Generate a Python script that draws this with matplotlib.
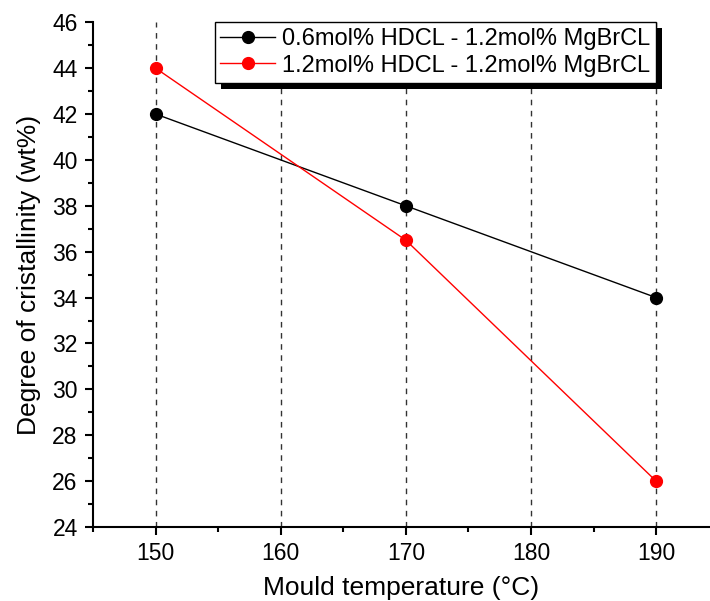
import matplotlib.pyplot as plt
from matplotlib.ticker import MultipleLocator
from matplotlib.patches import Rectangle
from matplotlib.transforms import IdentityTransform

plt.rcParams['font.family'] = ['Liberation Sans', 'DejaVu Sans']

# data
temps = [150, 170, 190]
hdcl_06 = [42, 38, 34]
hdcl_12 = [44, 36.5, 26]
labels = ["0.6mol% HDCL - 1.2mol% MgBrCL", "1.2mol% HDCL - 1.2mol% MgBrCL"]

fig = plt.figure(figsize=(7.1, 6.01), dpi=100)
ax = fig.add_axes([0.131, 0.123, 0.869, 0.840])

# vertical dashed grid
for x in [150, 160, 170, 180, 190]:
    ax.axvline(x, color='black', ls=(0, (4, 4)), lw=1, alpha=0.8, zorder=0)

ax.plot(temps, hdcl_06, color='black', lw=1, marker='o', ms=8.5, label=labels[0])
ax.plot(temps, hdcl_12, color='red', lw=1, marker='o', ms=8.5, label=labels[1])

ax.set_xlim(145, 194.3)
ax.set_ylim(24, 46)
ax.xaxis.set_major_locator(MultipleLocator(10))
ax.xaxis.set_minor_locator(MultipleLocator(5))
ax.yaxis.set_major_locator(MultipleLocator(2))
ax.yaxis.set_minor_locator(MultipleLocator(1))
ax.spines['top'].set_visible(False)
ax.spines['right'].set_visible(False)
ax.spines['left'].set_linewidth(1.5)
ax.spines['bottom'].set_linewidth(1.5)
ax.tick_params(which='major', direction='out', length=6, width=1.5, labelsize=16.5, pad=5)
ax.tick_params(which='minor', direction='out', length=3.5, width=1.5)

ax.set_xlabel("Mould temperature (°C)", fontsize=19, labelpad=8)
ax.set_ylabel("Degree of cristallinity (wt%)", fontsize=19, labelpad=8)

leg = ax.legend(loc='upper right', bbox_to_anchor=(656/710, 1 - 22/601),
                bbox_transform=fig.transFigure, fontsize=17, fancybox=False,
                framealpha=1, edgecolor='black',
                borderpad=0.25, labelspacing=0.2, handlelength=2.3,
                handletextpad=0.3, borderaxespad=0)
leg.get_frame().set_linewidth(1)
leg.set_zorder(10)

# solid black drop shadow behind the legend box
fig.canvas.draw()
bb = leg.get_window_extent()
shadow = Rectangle((bb.x0 + 6, bb.y0 - 6), bb.width, bb.height,
                   facecolor='black', edgecolor='none', zorder=9, clip_on=False)
shadow.set_transform(IdentityTransform())
ax.add_artist(shadow)

fig.savefig('out.png', dpi=100)
